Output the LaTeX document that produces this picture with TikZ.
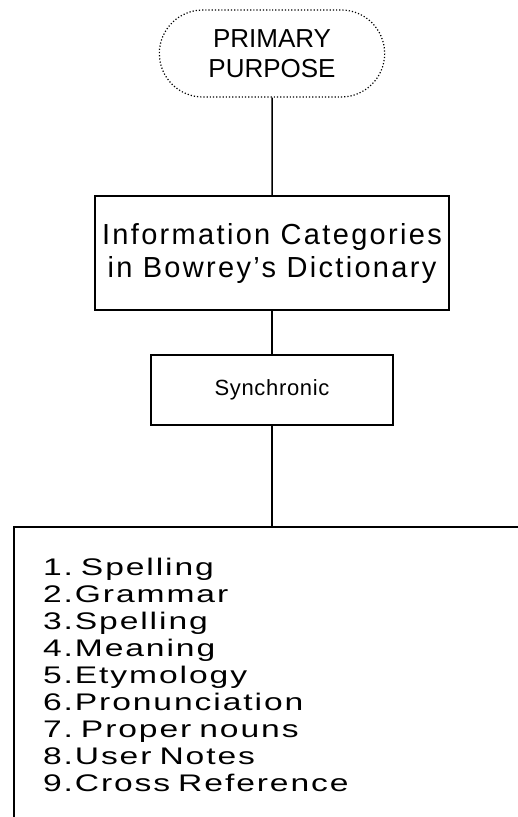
\documentclass[tikz,border=0pt]{standalone}
\usepackage{fontspec}
\setmainfont{Liberation Sans}
\newfontfamily\catfont{Liberation Sans}[LetterSpace=8]
\newfontfamily\syncfont{Liberation Sans}[LetterSpace=3]
\newfontfamily\listfont{Liberation Sans}[FakeStretch=1.4,LetterSpace=8]
\newcommand\listspacing{\frenchspacing\spaceskip=10pt\relax}
\usetikzlibrary{shapes.misc, positioning}

\begin{document}
\begin{tikzpicture}[x=1pt,y=-1pt,line width=1.5pt,
    purpose/.style={rounded rectangle, draw, line width=1.2pt, dotted,
        minimum width=232pt, minimum height=87pt, align=center,
        font=\fontsize{26}{30}\selectfont},
    catbox/.style={draw, rectangle, align=center, inner sep=0pt},
    listbox/.style={draw, rectangle, align=left, inner xsep=29pt,
        text width=458pt, minimum height=296pt,
        font=\listfont\fontsize{24}{27}\selectfont\listspacing}]
\useasboundingbox (0,0) rectangle (517,817);
\node[purpose] (purpose) at (272,53.5) {PRIMARY\\PURPOSE};
\node[catbox, minimum width=354pt, minimum height=114pt,
      font=\catfont\fontsize{29}{33}\selectfont] (categories) at (272,253)
      {Information Categories\\in Bowrey’s Dictionary};
\node[catbox, minimum width=242pt, minimum height=70pt,
      font=\syncfont\fontsize{22}{24}\selectfont] (synchronic) at (272,390) {Synchronic};
\node[listbox] (items) at (272,675) {1. Spelling\\2.Grammar\\3.Spelling\\4.Meaning\\
    5.Etymology\\6.Pronunciation\\7. Proper nouns\\8.User Notes\\9.Cross Reference};
\draw (purpose) -- (categories);
\draw (categories) -- (synchronic);
\draw (synchronic) -- (items);
\end{tikzpicture}
\end{document}
